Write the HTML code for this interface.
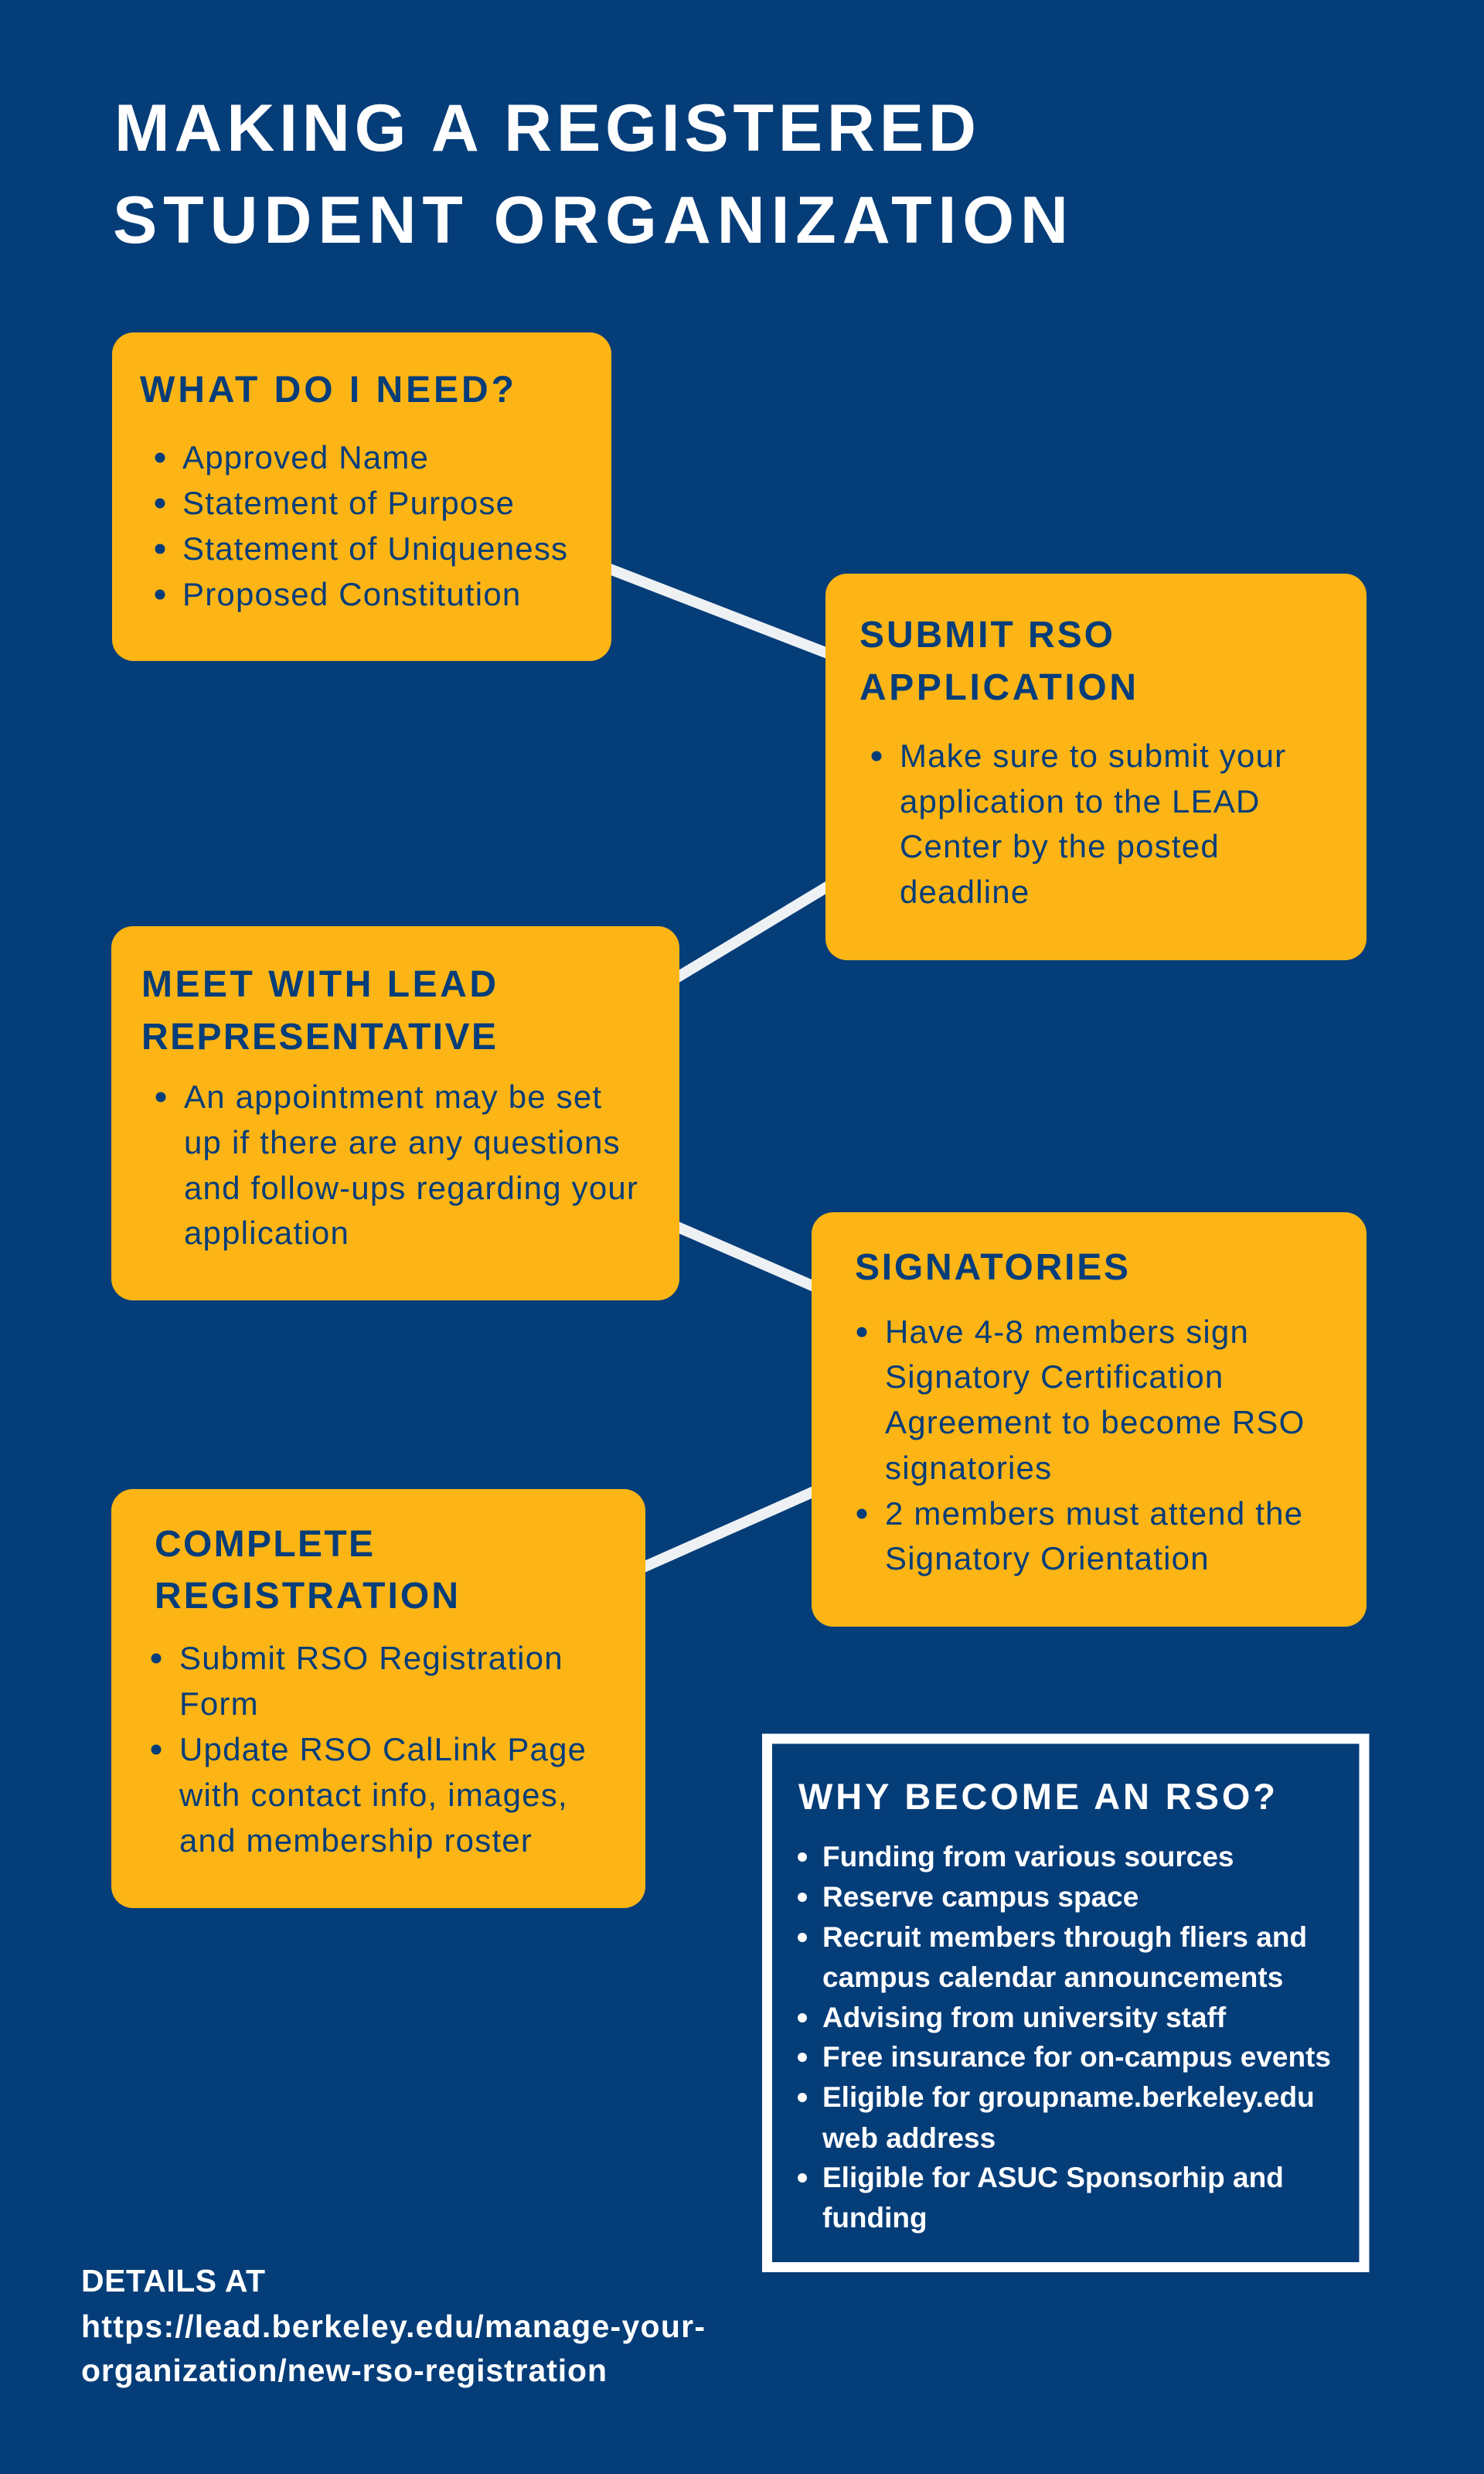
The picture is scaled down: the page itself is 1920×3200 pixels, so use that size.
<!DOCTYPE html>
<html>
<head>
<meta charset="utf-8">
<style>
  html, body { margin: 0; padding: 0; background: #053d79; }
  svg { display: block; }
  .t { font-family: "Liberation Sans", Arial, sans-serif; }
  .title { font-weight: bold; font-size: 86px; fill: #ffffff; }
  .h { font-weight: bold; font-size: 48px; fill: #053d79; }
  .b { font-size: 42px; fill: #053d79; letter-spacing: 1.2px; }
  .wh { font-weight: bold; font-size: 47px; fill: #ffffff; }
  .wb { font-weight: bold; font-size: 37px; fill: #ffffff; }
  .ft { font-weight: bold; font-size: 41px; fill: #ffffff; }
</style>
</head>
<body>
<svg width="1920" height="3200" viewBox="0 0 1920 3200" xmlns="http://www.w3.org/2000/svg">
  <rect x="0" y="0" width="1920" height="3200" fill="#053d79"/>

  <!-- connectors -->
  <g stroke="#eef1f4" stroke-width="14" stroke-linecap="butt">
    <line x1="760" y1="724.8" x2="1100" y2="856.4"/>
    <line x1="850" y1="1280" x2="1100" y2="1129"/>
    <line x1="850" y1="1575.4" x2="1080" y2="1675.6"/>
    <line x1="800" y1="2041.5" x2="1080" y2="1917.2"/>
  </g>

  <!-- Title -->
  <text class="t title" x="148" y="195" textLength="1115" lengthAdjust="spacing">MAKING A REGISTERED</text>
  <text class="t title" x="146" y="314" textLength="1236" lengthAdjust="spacing">STUDENT ORGANIZATION</text>

  <!-- Box 1 -->
  <rect x="145" y="430" width="646" height="425" rx="28" ry="28" fill="#fdb515"/>
  <text class="t h" x="181" y="520" textLength="484" lengthAdjust="spacing">WHAT DO I NEED?</text>
  <g fill="#053d79">
    <circle cx="207" cy="592" r="6.5"/>
    <circle cx="207" cy="651" r="6.5"/>
    <circle cx="207" cy="710" r="6.5"/>
    <circle cx="207" cy="769" r="6.5"/>
  </g>
  <text class="t b" x="236" y="606">Approved Name</text>
  <text class="t b" x="236" y="665">Statement of Purpose</text>
  <text class="t b" x="236" y="724">Statement of Uniqueness</text>
  <text class="t b" x="236" y="783">Proposed Constitution</text>

  <!-- Box 2 -->
  <rect x="1068" y="742" width="700" height="500" rx="28" ry="28" fill="#fdb515"/>
  <text class="t h" x="1112" y="837" textLength="328" lengthAdjust="spacing">SUBMIT RSO</text>
  <text class="t h" x="1112" y="905" textLength="358" lengthAdjust="spacing">APPLICATION</text>
  <circle cx="1134" cy="978" r="6.5" fill="#053d79"/>
  <text class="t b" x="1164" y="992">Make sure to submit your</text>
  <text class="t b" x="1164" y="1051">application to the LEAD</text>
  <text class="t b" x="1164" y="1109">Center by the posted</text>
  <text class="t b" x="1164" y="1168">deadline</text>

  <!-- Box 3 -->
  <rect x="144" y="1198" width="735" height="484" rx="28" ry="28" fill="#fdb515"/>
  <text class="t h" x="183" y="1289" textLength="459" lengthAdjust="spacing">MEET WITH LEAD</text>
  <text class="t h" x="183" y="1357" textLength="459" lengthAdjust="spacing">REPRESENTATIVE</text>
  <circle cx="208" cy="1419" r="6.5" fill="#053d79"/>
  <text class="t b" x="238" y="1433">An appointment may be set</text>
  <text class="t b" x="238" y="1492">up if there are any questions</text>
  <text class="t b" x="238" y="1551">and follow-ups regarding your</text>
  <text class="t b" x="238" y="1609">application</text>

  <!-- Box 4 -->
  <rect x="1050" y="1568" width="718" height="536" rx="28" ry="28" fill="#fdb515"/>
  <text class="t h" x="1106" y="1655" textLength="354" lengthAdjust="spacing">SIGNATORIES</text>
  <g fill="#053d79">
    <circle cx="1115" cy="1723" r="6.5"/>
    <circle cx="1115" cy="1958" r="6.5"/>
  </g>
  <text class="t b" x="1145" y="1737">Have 4-8 members sign</text>
  <text class="t b" x="1145" y="1795">Signatory Certification</text>
  <text class="t b" x="1145" y="1854">Agreement to become RSO</text>
  <text class="t b" x="1145" y="1913">signatories</text>
  <text class="t b" x="1145" y="1972">2 members must attend the</text>
  <text class="t b" x="1145" y="2030">Signatory Orientation</text>

  <!-- Box 5 -->
  <rect x="144" y="1926" width="691" height="542" rx="28" ry="28" fill="#fdb515"/>
  <text class="t h" x="200" y="2013" textLength="283" lengthAdjust="spacing">COMPLETE</text>
  <text class="t h" x="200" y="2080" textLength="393" lengthAdjust="spacing">REGISTRATION</text>
  <g fill="#053d79">
    <circle cx="202" cy="2145" r="6.5"/>
    <circle cx="202" cy="2263" r="6.5"/>
  </g>
  <text class="t b" x="232" y="2159">Submit RSO Registration</text>
  <text class="t b" x="232" y="2218">Form</text>
  <text class="t b" x="232" y="2277">Update RSO CalLink Page</text>
  <text class="t b" x="232" y="2336">with contact info, images,</text>
  <text class="t b" x="232" y="2395">and membership roster</text>

  <!-- Box 6: Why become an RSO -->
  <rect x="992.5" y="2249" width="772.5" height="683.5" fill="none" stroke="#ffffff" stroke-width="13"/>
  <text class="t wh" x="1033" y="2340" textLength="617" lengthAdjust="spacing">WHY BECOME AN RSO?</text>
  <g fill="#ffffff">
    <circle cx="1038" cy="2402" r="6"/>
    <circle cx="1038" cy="2454" r="6"/>
    <circle cx="1038" cy="2506" r="6"/>
    <circle cx="1038" cy="2610" r="6"/>
    <circle cx="1038" cy="2661" r="6"/>
    <circle cx="1038" cy="2713" r="6"/>
    <circle cx="1038" cy="2817" r="6"/>
  </g>
  <text class="t wb" x="1064" y="2414">Funding from various sources</text>
  <text class="t wb" x="1064" y="2466">Reserve campus space</text>
  <text class="t wb" x="1064" y="2518">Recruit members through fliers and</text>
  <text class="t wb" x="1064" y="2570">campus calendar announcements</text>
  <text class="t wb" x="1064" y="2622">Advising from university staff</text>
  <text class="t wb" x="1064" y="2673">Free insurance for on-campus events</text>
  <text class="t wb" x="1064" y="2725">Eligible for groupname.berkeley.edu</text>
  <text class="t wb" x="1064" y="2778">web address</text>
  <text class="t wb" x="1064" y="2829">Eligible for ASUC Sponsorhip and</text>
  <text class="t wb" x="1064" y="2881">funding</text>

  <!-- Footer -->
  <text class="t ft" x="105" y="2964" textLength="238" lengthAdjust="spacing">DETAILS AT</text>
  <text class="t ft" x="105" y="3023" textLength="807" lengthAdjust="spacing">https://lead.berkeley.edu/manage-your-</text>
  <text class="t ft" x="105" y="3080" textLength="680" lengthAdjust="spacing">organization/new-rso-registration</text>
</svg>
</body>
</html>
